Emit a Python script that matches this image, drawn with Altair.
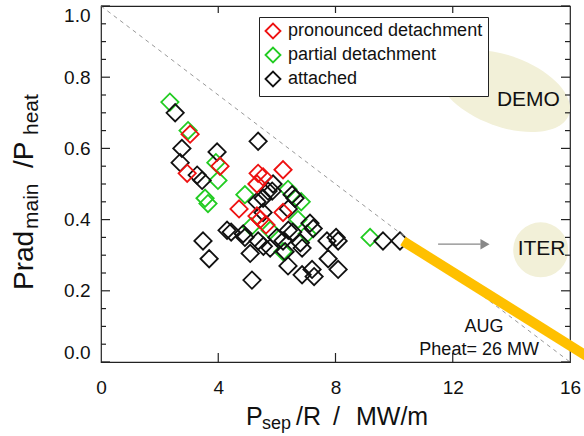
import altair as alt
import pandas as pd

FONT = "Liberation Sans"
INK = "#111111"

# P_sep/R (MW/m) and Prad_main/P_heat for each discharge class
red_x = [3.04, 2.94, 4.06, 5.36, 5.53, 5.32, 6.21, 4.71, 5.32, 5.63, 6.21, 5.43]
red_y = [0.64, 0.53, 0.55, 0.53, 0.52, 0.50, 0.54, 0.43, 0.41, 0.385, 0.42, 0.40]

green_x = [2.35, 2.97, 3.92, 3.99, 3.55, 3.65, 4.91, 6.38, 6.83, 6.72, 7.03, 5.12,
           5.77, 6.21, 9.18]
green_y = [0.73, 0.65, 0.56, 0.51, 0.46, 0.445, 0.47, 0.485, 0.45, 0.40, 0.36, 0.38,
           0.37, 0.31, 0.35]

black_x = [2.53, 2.76, 2.70, 3.28, 3.45, 3.96, 5.36, 5.84, 6.52, 5.32, 5.53, 6.39,
           6.62, 7.13, 7.24, 6.39, 6.86, 4.30, 4.44, 4.91, 5.36, 5.77, 6.21, 5.09,
           3.48, 3.69, 5.15, 6.38, 6.86, 7.20, 7.27, 7.75, 7.71, 8.02, 8.09, 8.09,
           9.62, 10.20, 5.70, 5.53, 5.87, 4.85, 5.54, 6.80, 6.54, 6.00, 6.28]
black_y = [0.70, 0.60, 0.56, 0.525, 0.51, 0.59, 0.62, 0.48, 0.47, 0.45, 0.42, 0.43,
           0.46, 0.39, 0.375, 0.37, 0.32, 0.37, 0.365, 0.35, 0.34, 0.32, 0.34, 0.305,
           0.34, 0.29, 0.23, 0.27, 0.245, 0.26, 0.24, 0.29, 0.34, 0.35, 0.34, 0.26,
           0.34, 0.34, 0.48, 0.46, 0.50, 0.36, 0.325, 0.335, 0.365, 0.35, 0.31]

groups = ["pronounced detachment", "partial detachment", "attached"]
group_colors = ["#ee1111", "#22cc22", "#111111"]

# reference lines and projections
diag_x = [0.0, 16.0]
diag_y = [1.0, 0.0]
aug_x = [10.3, 16.7]
aug_y = [0.34, 0.01]
arrow_x = [11.5, 12.95]
arrow_y = [0.331, 0.331]
arrow_tip = [13.1]

demo_xy = (13.75, 0.761)
iter_xy = (15.0, 0.315)

y_major = [0.0, 0.2, 0.4, 0.6, 0.8, 1.0]
y_minor = [0.05, 0.1, 0.15, 0.25, 0.3, 0.35, 0.45, 0.5, 0.55, 0.65, 0.7, 0.75,
           0.85, 0.9, 0.95]
x_major = [4, 8, 12]
x_labels = [0, 4, 8, 12, 16]

W, H = 469, 356

points = pd.concat([
    pd.DataFrame({"x": green_x, "y": green_y, "group": groups[1]}),
    pd.DataFrame({"x": black_x, "y": black_y, "group": groups[2]}),
    pd.DataFrame({"x": red_x, "y": red_y, "group": groups[0]}),
], ignore_index=True)
points["order"] = range(len(points))

xscale = alt.Scale(domain=[0, 16], nice=False, zero=False)
yscale = alt.Scale(domain=[0, 1], nice=False, zero=False)
xaxis = alt.Axis(values=x_labels, format="d", labelFlush=False, labelPadding=16, title=None)
yaxis = alt.Axis(values=y_major, format=".1f", labelFlush=True, labelPadding=11, title=None)


def X(field="x"):
    return alt.X(f"{field}:Q", scale=xscale, axis=xaxis, title=None)


def Y(field="y"):
    return alt.Y(f"{field}:Q", scale=yscale, axis=yaxis, title=None)


# background blobs for DEMO and ITER
ellipse_path = "M -1 0 A 1 0.515 0 1 1 1 0 A 1 0.515 0 1 1 -1 0 Z"
demo_blob = alt.Chart(pd.DataFrame({"x": [demo_xy[0]], "y": [demo_xy[1]]})).mark_point(
    shape=ellipse_path, filled=True, fill="#f2f0d8", strokeWidth=0,
    size=138 * 138, angle=20, opacity=1
).encode(x=X(), y=Y())

iter_blob = alt.Chart(pd.DataFrame({"x": [iter_xy[0]], "y": [iter_xy[1]]})).mark_point(
    shape="circle", filled=True, fill="#f2f0d8", strokeWidth=0, size=55 * 55, opacity=1
).encode(x=X(), y=Y())

diag = alt.Chart(pd.DataFrame({"x": diag_x, "y": diag_y})).mark_line(
    color="#999999", strokeWidth=1, strokeDash=[4, 4]
).encode(x=X(), y=Y())

scatter = alt.Chart(points).mark_point(
    shape="diamond", filled=False, size=300, strokeWidth=1.8, opacity=1
).encode(
    x=X(),
    y=Y(),
    color=alt.Color("group:N", scale=alt.Scale(domain=groups, range=group_colors),
                    legend=alt.Legend(
                        orient="none", legendX=158, legendY=11, title=None,
                        strokeColor="#222222", fillColor="white", padding=5,
                        labelFont=FONT, labelFontSize=18, labelColor=INK,
                        labelLimit=400, labelOffset=6, rowPadding=0,
                        symbolType="diamond", symbolSize=225, symbolStrokeWidth=1.8,
                        symbolFillColor="transparent")),
    order="order:Q",
)

aug_line = alt.Chart(pd.DataFrame({"x": aug_x, "y": aug_y})).mark_line(
    color="#ffc000", strokeWidth=10, strokeCap="butt"
).encode(x=X(), y=Y())

arrow_line = alt.Chart(pd.DataFrame({"x": arrow_x, "y": arrow_y})).mark_line(
    color="#888888", strokeWidth=1.3
).encode(x=X(), y=Y())

arrow_head = alt.Chart(pd.DataFrame({"x": arrow_tip, "y": [arrow_y[0]]})).mark_point(
    shape="triangle-right", filled=True, color="#888888", size=110, opacity=1
).encode(x=X(), y=Y())

big_labels = alt.Chart(pd.DataFrame({
    "t": ["DEMO", "ITER"], "x": [14.58, 15.03], "y": [0.736, 0.317]
})).mark_text(font=FONT, fontSize=21, color=INK, align="center", baseline="middle").encode(
    x=X(), y=Y(), text="t:N")

aug_labels = alt.Chart(pd.DataFrame({
    "t": ["AUG", "Pheat= 26 MW"], "x": [13.07, 12.9], "y": [0.098, 0.034]
})).mark_text(font=FONT, fontSize=18, color=INK, align="center", baseline="middle").encode(
    x=X(), y=Y(), text="t:N")


# inward tick marks on all four sides
def yticks(vals, x0, x1):
    return alt.Chart(pd.DataFrame({"y": vals})).mark_rule(color="#222222", strokeWidth=1.2).encode(
        y=Y(), x=alt.value(x0), x2=alt.value(x1))


def xticks(vals, y0, y1):
    return alt.Chart(pd.DataFrame({"x": vals})).mark_rule(color="#222222", strokeWidth=1.2).encode(
        x=X(), y=alt.value(y0), y2=alt.value(y1))


ticks = [
    yticks(y_major, 0, 9), yticks(y_minor, 0, 5),
    yticks(y_major, W, W - 9), yticks(y_minor, W, W - 5),
    xticks(x_major, H, H - 9), xticks(x_major, 0, 7),
]


# axis titles with subscripts
def piece(text, x, y, size, angle=0):
    return alt.Chart(pd.DataFrame({"t": [text]})).mark_text(
        font=FONT, fontSize=size, color=INK, align="left", baseline="alphabetic", angle=angle
    ).encode(x=alt.value(x), y=alt.value(y), text="t:N")


titles = [
    piece("P", 145, 419, 25),
    piece("sep", 161, 423, 18),
    piece("/R", 195, 419, 25),
    piece("/", 232, 419, 25),
    piece("MW/m", 255, 419, 25),
    piece("Prad", -68, 284, 28, 270),
    piece("main", -63, 223, 21, 270),
    piece("/P", -68, 162, 28, 270),
    piece("heat", -63, 129, 21, 270),
]

chart = alt.layer(
    scatter, demo_blob, iter_blob, diag, *ticks, aug_line, arrow_line, arrow_head,
    big_labels, aug_labels, *titles
).properties(
    width=W, height=H,
    padding={"left": 101, "top": 6, "right": 14, "bottom": 74},
    autosize=alt.AutoSizeParams(type="none"),
).configure_view(
    stroke="#222222", strokeWidth=1.2
).configure_axis(
    grid=False, domain=False, ticks=False,
    labelFont=FONT, labelFontSize=19, labelColor=INK,
)

chart.save("out.html", embed_options={"renderer": "svg", "actions": False})
